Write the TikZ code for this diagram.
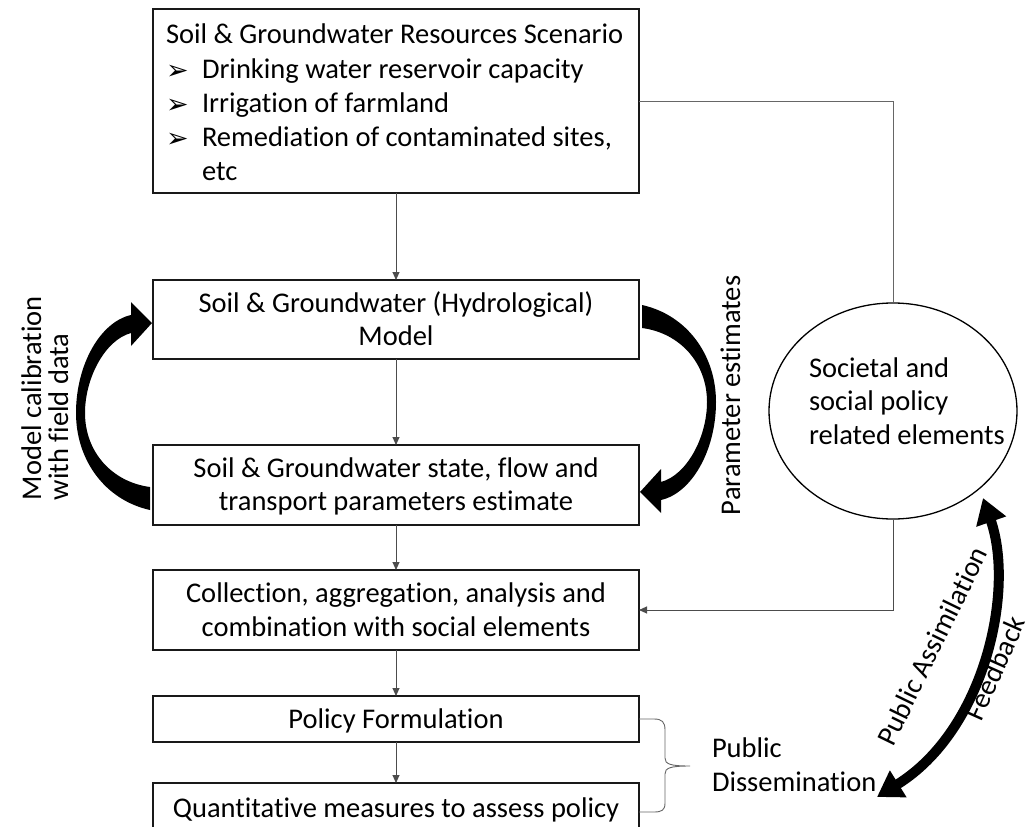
\documentclass[tikz,border=0pt]{standalone}
\usepackage{fontspec}
\setmainfont{Carlito}[Ligatures=NoCommon]
\newfontfamily\dejavu{DejaVu Sans}
\usetikzlibrary{arrows.meta,shapes.geometric,calc}
\begin{document}
\begin{tikzpicture}[x=1pt,y=-1pt,
  box/.style={draw=black!90, line width=1.6pt, inner sep=0pt, outer sep=0pt, minimum width=486pt},
  txt/.style={inner sep=0pt, outer sep=0pt, font=\fontsize{28.5}{34}\selectfont},
  conn/.style={draw=black!70, line width=0.9pt, -{Triangle[length=8pt,width=7pt]}},
  thinline/.style={draw=black!60, line width=0.9pt},
  bigarrow/.style={fill=black, draw=none}
]
\newcommand{\blt}{\makebox[36pt][l]{\dejavu\fontsize{27}{27}\selectfont\raisebox{-1pt}{➢}}}
\useasboundingbox (0,0) rectangle (1029,827);
\fill[white] (0,0) rectangle (1029,827);

% boxes
\node[box, minimum height=184pt] (s1) at (396,101) {};
\node[box, minimum height=79pt] (m2) at (396,319.5) {};
\node[box, minimum height=80pt] (p3) at (396,485) {};
\node[box, minimum height=80pt] (cb) at (396,610) {};
\node[box, minimum height=46pt] (pf) at (396,719) {};
\node[box, minimum height=47pt] (qm) at (396,806.5) {};
\node[draw=black, line width=1.3pt, ellipse, inner sep=0pt, minimum width=248pt, minimum height=216pt] (soc) at (893,411) {};

% box 1 text
\node[txt, anchor=base west] (s1a) at (166,43) {Soil \& Groundwater Resources Scenario};
\node[txt, anchor=base west] (s1b) at (166,78) {\blt Drinking water reservoir capacity};
\node[txt, anchor=base west] (s1c) at (166,112) {\blt Irrigation of farmland};
\node[txt, anchor=base west] (s1d) at (166,146) {\blt Remediation of contaminated sites,};
\node[txt, anchor=base west] (s1e) at (202,180) {etc};

% other box texts
\node[txt, anchor=base] (m2a) at (396,312) {Soil \& Groundwater (Hydrological)};
\node[txt, anchor=base] (m2b) at (396,345) {Model};
\node[txt, anchor=base] (p3a) at (396,477) {Soil \& Groundwater state, flow and};
\node[txt, anchor=base] (p3b) at (396,510) {transport parameters estimate};
\node[txt, anchor=base] (cba) at (396,602) {Collection, aggregation, analysis and};
\node[txt, anchor=base] (cbb) at (396,636) {combination with social elements};
\node[txt, anchor=base] (pfa) at (396,728) {Policy Formulation};
\node[txt, anchor=base] (qma) at (396,817) {Quantitative measures to assess policy};

% ellipse text
\node[txt, anchor=base west] (soca) at (809,377) {Societal and};
\node[txt, anchor=base west] (socb) at (809,410) {social policy};
\node[txt, anchor=base west] (socc) at (809,444) {related elements};

% side labels
\node[txt, anchor=base west, rotate=90] (mc1) at (41,500) {Model calibration};
\node[txt, anchor=base west, rotate=90] (mc2) at (68,500) {with field data};
\node[txt, anchor=base west, rotate=90] (pe) at (740,515) {Parameter estimates};
\node[txt, anchor=base west] (pd1) at (712,757) {Public};
\node[txt, anchor=base west] (pd2) at (712,791) {Dissemination};
\node[txt, rotate=64] (pa) at (932,646) {Public Assimilation};
\node[txt, rotate=66] (fb) at (995,668) {Feedback};

% connectors
\draw[conn] (s1.south) -- (m2.north);
\draw[conn] (m2.south) -- (p3.north);
\draw[conn] (p3.south) -- (cb.north);
\draw[conn] (cb.south) -- (pf.north);
\draw[conn] (pf.south) -- (qm.north);
\draw[thinline] (s1.east) -| (soc.north);
\draw[conn] (soc.south) |- (cb.east);

% brace
\draw[thinline] (pf.east) -- (654,719) .. controls (662,719) and (665,722) .. (665,730)
  -- (665,758) .. controls (665,764) and (670,766) .. (690,766)
  .. controls (670,766) and (665,768) .. (665,774)
  -- (665,803) .. controls (665,810) and (662,812) .. (654,812) -- ($(qm.north east)+(0,29)$);

% big curved arrows
\fill[bigarrow] (150,510) .. controls (105,500) and (76,460) .. (76,413)
  .. controls (76,365) and (100,322) .. (131,315) -- (131,302) -- (152,323) -- (131,346) -- (131,333)
  .. controls (105,340) and (85,378) .. (85,413) .. controls (85,452) and (112,482) .. (150,487) -- cycle;
\begin{scope}[rotate around={180:(396,407.5)}]
\fill[bigarrow] (150,510) .. controls (105,500) and (76,460) .. (76,413)
  .. controls (76,365) and (100,322) .. (131,315) -- (131,302) -- (152,323) -- (131,346) -- (131,333)
  .. controls (105,340) and (85,378) .. (85,413) .. controls (85,452) and (112,482) .. (150,487) -- cycle;
\end{scope}
\draw[line width=10pt, {Triangle[length=25pt,width=30pt]}-{Triangle[length=25pt,width=30pt]}]
  (877,797) .. controls (985,730) and (1015,590) .. (983,498);
\end{tikzpicture}
\end{document}
